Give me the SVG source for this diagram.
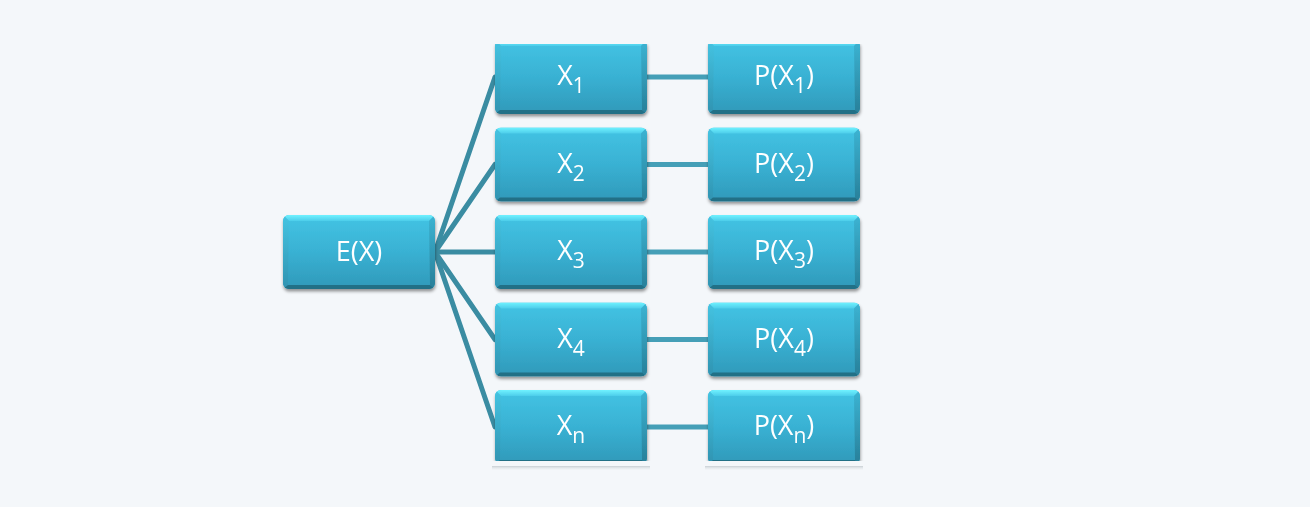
<svg xmlns="http://www.w3.org/2000/svg" width="1310" height="507" viewBox="0 0 1310 507">
<defs>
<linearGradient id="fill" x1="0" y1="0" x2="0" y2="1">
<stop offset="0" stop-color="#43c4e4"/>
<stop offset="0.5" stop-color="#39b1d3"/>
<stop offset="1" stop-color="#3099b9"/>
</linearGradient>
<linearGradient id="topb" x1="0" y1="0" x2="0" y2="1">
<stop offset="0" stop-color="#70f2ff"/>
<stop offset="1" stop-color="#4ccdea"/>
</linearGradient>
<linearGradient id="lb" x1="0" y1="0" x2="0" y2="1">
<stop offset="0" stop-color="#45c4e2"/>
<stop offset="1" stop-color="#2f93b1"/>
</linearGradient>
<linearGradient id="rb" x1="0" y1="0" x2="0" y2="1">
<stop offset="0" stop-color="#3cb4d3"/>
<stop offset="1" stop-color="#287f99"/>
</linearGradient>
<linearGradient id="refl" x1="0" y1="0" x2="0" y2="1">
<stop offset="0" stop-color="#c3cacf" stop-opacity="0.9"/>
<stop offset="1" stop-color="#eef2f5" stop-opacity="0.3"/>
</linearGradient>
<filter id="sh" x="-10%" y="-10%" width="120%" height="130%">
<feDropShadow dx="0.5" dy="2.5" stdDeviation="1.6" flood-color="#000" flood-opacity="0.4"/>
</filter>
<clipPath id="cols"><rect x="0" y="44" width="1310" height="417"/></clipPath>
<clipPath id="rr"><rect x="0" y="0" width="152" height="74" rx="6"/></clipPath>
<symbol id="box" viewBox="0 0 152 74" width="152" height="74">
<g clip-path="url(#rr)">
<rect x="0" y="0" width="152" height="74" fill="url(#fill)"/>
<polygon points="0,0 152,0 146,6 6,6" fill="url(#topb)"/>
<polygon points="0,0 6,6 5,70 0,74" fill="url(#lb)"/>
<polygon points="152,0 146,6 147,70 152,74" fill="url(#rb)"/>
<polygon points="0,74 5,70 147,70 152,74" fill="#236f86"/>
</g>
</symbol>
</defs>
<style>
.t{font-family:"Open Sans","Liberation Sans",sans-serif;font-size:27px;fill:#fff;text-anchor:middle}
.s{font-size:21px}
.c1{stroke:#3a8ca2;stroke-width:5;fill:none;stroke-linecap:round}
.c2{stroke:#459fb7;stroke-width:5;fill:none}
</style>
<rect width="1310" height="507" fill="#f4f7fa"/>
<rect x="492" y="466" width="158" height="4" fill="url(#refl)"/>
<rect x="705" y="466" width="158" height="4" fill="url(#refl)"/>
<g id="connectors">
<line class="c1" x1="435" y1="252" x2="495" y2="77"/>
<line class="c1" x1="435" y1="252" x2="495" y2="164.5"/>
<line class="c1" x1="435" y1="252" x2="495" y2="252"/>
<line class="c1" x1="435" y1="252" x2="495" y2="339.5"/>
<line class="c1" x1="435" y1="252" x2="495" y2="427"/>
<line class="c2" x1="647" y1="77" x2="708" y2="77"/>
<line class="c2" x1="647" y1="164.5" x2="708" y2="164.5"/>
<line class="c2" x1="647" y1="252" x2="708" y2="252"/>
<line class="c2" x1="647" y1="339.5" x2="708" y2="339.5"/>
<line class="c2" x1="647" y1="427" x2="708" y2="427"/>
</g>
<g id="ex" filter="url(#sh)">
<use href="#box" x="283" y="215"/>
<text class="t" x="359" y="261">E(X)</text>
</g>
<g clip-path="url(#cols)">
<g id="x1" filter="url(#sh)"><use href="#box" x="495" y="40"/><text class="t" x="571" y="85">X<tspan class="s" dy="8">1</tspan></text></g>
<g id="x2" filter="url(#sh)"><use href="#box" x="495" y="127.5"/><text class="t" x="571" y="172.5">X<tspan class="s" dy="8">2</tspan></text></g>
<g id="x3" filter="url(#sh)"><use href="#box" x="495" y="215"/><text class="t" x="571" y="260">X<tspan class="s" dy="8">3</tspan></text></g>
<g id="x4" filter="url(#sh)"><use href="#box" x="495" y="302.5"/><text class="t" x="571" y="347.5">X<tspan class="s" dy="8">4</tspan></text></g>
<g id="xn" filter="url(#sh)"><use href="#box" x="495" y="390"/><text class="t" x="571" y="435">X<tspan class="s" dy="8">n</tspan></text></g>
<g id="p1" filter="url(#sh)"><use href="#box" x="708" y="40"/><text class="t" x="784" y="85">P(X<tspan class="s" dy="8">1</tspan><tspan dy="-8">)</tspan></text></g>
<g id="p2" filter="url(#sh)"><use href="#box" x="708" y="127.5"/><text class="t" x="784" y="172.5">P(X<tspan class="s" dy="8">2</tspan><tspan dy="-8">)</tspan></text></g>
<g id="p3" filter="url(#sh)"><use href="#box" x="708" y="215"/><text class="t" x="784" y="260">P(X<tspan class="s" dy="8">3</tspan><tspan dy="-8">)</tspan></text></g>
<g id="p4" filter="url(#sh)"><use href="#box" x="708" y="302.5"/><text class="t" x="784" y="347.5">P(X<tspan class="s" dy="8">4</tspan><tspan dy="-8">)</tspan></text></g>
<g id="pn" filter="url(#sh)"><use href="#box" x="708" y="390"/><text class="t" x="784" y="435">P(X<tspan class="s" dy="8">n</tspan><tspan dy="-8">)</tspan></text></g>
</g>
</svg>
